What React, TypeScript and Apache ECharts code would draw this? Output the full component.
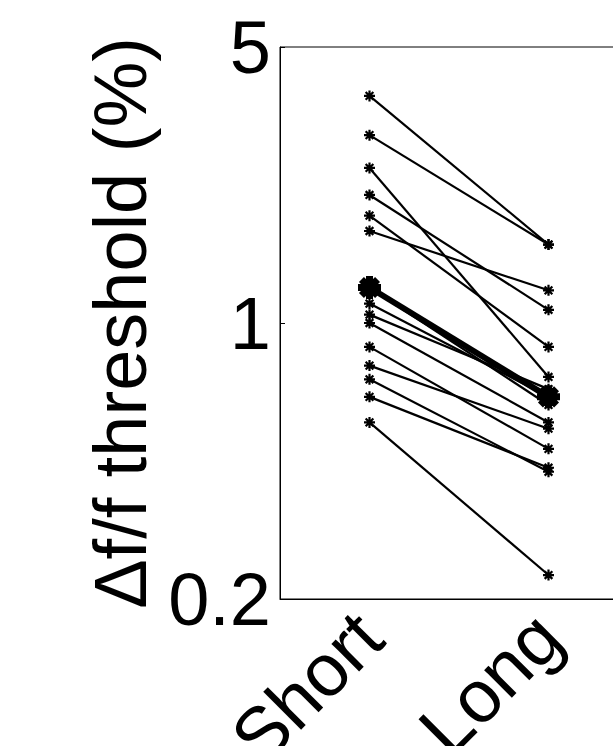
import React, { useEffect, useRef } from "react";
import * as echarts from "echarts";

const categories = ["Short", "Long"];
// individual subjects: threshold (%) for Short and Long
const shortValues = [3.76, 2.99, 2.47, 2.11, 1.87, 1.71, 1.23, 1.12, 1.05, 1.0, 0.87, 0.78, 0.72, 0.65, 0.56];
const longValues = [1.58, 1.58, 0.73, 1.08, 0.87, 1.21, 0.62, 0.65, 0.68, 0.56, 0.48, 0.54, 0.42, 0.43, 0.23];
const meanValues = [1.23, 0.65];
const yTicks = [0.2, 1, 5];

const star = "path://M0,-5L0,5M-5,0L5,0M-3.5,-3.5L3.5,3.5M-3.5,3.5L3.5,-3.5";

export default function App() {
  const ref = useRef<HTMLDivElement>(null);
  useEffect(() => {
    if (!ref.current) return;
    const chart = echarts.init(ref.current, null, { renderer: "svg" });
    const font = "Liberation Sans";
    const series: any[] = shortValues.map((s, i) => ({
      type: "line",
      data: [s, longValues[i]],
      symbol: star,
      symbolSize: 11,
      lineStyle: { color: "#000", width: 2.2 },
      itemStyle: { color: "#000", borderColor: "#000", borderWidth: 2.2 },
      z: 2,
    }));
    series.push({
      type: "line",
      data: meanValues,
      symbol: star,
      symbolSize: 23,
      lineStyle: { color: "#000", width: 6 },
      itemStyle: { color: "#000", borderColor: "#000", borderWidth: 7 },
      z: 3,
    });
    chart.setOption({
      animation: false,
      grid: {
        left: 280,
        top: 47,
        width: 358,
        height: 552,
        show: true,
        borderColor: "#000",
        borderWidth: 1,
        containLabel: false,
        outerBoundsMode: "none",
      },
      xAxis: {
        type: "category",
        data: categories,
        boundaryGap: true,
        axisLine: { lineStyle: { color: "#000", width: 1 } },
        axisTick: { inside: true, length: 5, alignWithLabel: true, lineStyle: { color: "#000" } },
        axisLabel: {
          rotate: 45,
          margin: 26,
          fontSize: 74,
          fontFamily: font,
          color: "#000",
        },
        splitLine: { show: false },
      },
      yAxis: {
        type: "log",
        logBase: 5,
        min: 0.2,
        max: 5,
        name: "Δf/f threshold (%)",
        nameLocation: "middle",
        nameRotate: 90,
        nameGap: 123,
        nameTextStyle: { fontSize: 74, fontFamily: font, color: "#000" },
        axisLine: { show: true, lineStyle: { color: "#000", width: 1 } },
        axisTick: { show: true, inside: true, length: 5, lineStyle: { color: "#000" } },
        axisLabel: {
          margin: 9,
          fontSize: 74,
          fontFamily: font,
          color: "#000",
          formatter: (v: number) => {
            let best = yTicks[0];
            for (const t of yTicks) if (Math.abs(t - v) < Math.abs(best - v)) best = t;
            return String(best);
          },
        },
        splitLine: { show: false },
        minorTick: { show: false },
      },
      series,
    });
    return () => chart.dispose();
  }, []);
  return (
    <div
      ref={ref}
      style={{ position: "absolute", left: 0, top: 0, width: 613, height: 746 }}
    />
  );
}
